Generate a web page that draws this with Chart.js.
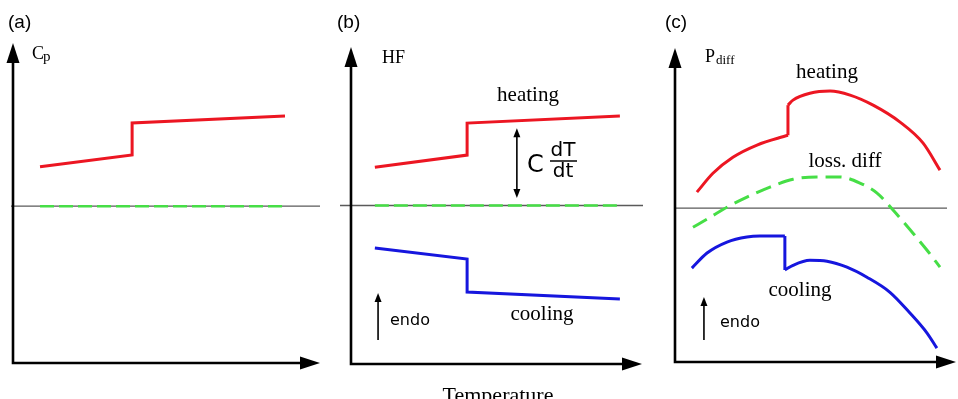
<!DOCTYPE html>
<html>
<head>
<meta charset="utf-8">
<script src="https://cdn.jsdelivr.net/npm/chart.js@4.4.1/dist/chart.umd.min.js"></script>
<style>
  html, body { margin: 0; padding: 0; background: #fff; }
  #wrap { position: relative; width: 958px; height: 399px; overflow: hidden; }
  #wrap canvas { position: absolute; top: 0; }
</style>
</head>
<body>
<div id="wrap">
  <canvas id="panelA" width="330" height="399" style="left:0px"></canvas>
  <canvas id="panelB" width="320" height="399" style="left:330px"></canvas>
  <canvas id="panelC" width="308" height="399" style="left:650px"></canvas>
</div>
<script>
// Panel (a): Cp vs temperature
const aHeatX = [0.88, 3.88, 3.88, 8.86];
const aHeatY = [1.23, 1.60, 2.60, 2.82];
const aLossX = [0.88, 8.86];
const aLossY = [0, 0];

// Panel (b): heat flow
const bHeatX = [0.82, 3.99, 3.99, 9.24];
const bHeatY = [1.21, 1.59, 2.60, 2.82];
const bCoolX = [0.82, 3.99, 3.99, 9.24];
const bCoolY = [-1.34, -1.69, -2.73, -2.95];
const bLossX = [0.82, 9.24];
const bLossY = [0, 0];

// Panel (c): Pdiff, curves split at the transition step
const cHeatLowX = [0.78, 1.35, 2.06, 2.92, 4.02];
const cHeatLowY = [0.51, 1.11, 1.62, 2.01, 2.32];
const cHeatHighX = [4.02, 4.20, 4.80, 5.52, 6.23, 7.05, 8.01, 8.83, 9.43];
const cHeatHighY = [3.28, 3.44, 3.66, 3.73, 3.60, 3.28, 2.74, 2.07, 1.21];
const cLossX = [0.64, 1.25, 1.85, 2.56, 3.38, 4.20, 5.05, 5.87, 6.58, 7.19, 7.76, 8.47, 8.97, 9.43];
const cLossY = [-0.61, -0.29, 0.03, 0.35, 0.67, 0.92, 0.99, 0.99, 0.80, 0.48, -0.06, -0.80, -1.34, -1.88];
const cCoolLowX = [0.60, 1.14, 1.85, 2.56, 3.02, 3.91];
const cCoolLowY = [-1.91, -1.43, -1.08, -0.92, -0.89, -0.89];
const cCoolHighX = [3.91, 4.20, 4.80, 5.41, 6.12, 6.83, 7.65, 8.36, 8.97, 9.32];
const cCoolHighY = [-1.97, -1.82, -1.66, -1.69, -1.88, -2.20, -2.68, -3.34, -3.98, -4.46];

const RED = 'rgb(236,22,34)';
const BLUE = 'rgb(22,22,222)';
const GREEN = 'rgb(70,222,70)';
const SERIF = '"Liberation Serif", "Times New Roman", serif';
const SANS = '"DejaVu Sans", Verdana, sans-serif';
const ARIAL = '"Liberation Sans", Arial, sans-serif';

function toPoints(xs, ys) {
  return xs.map((x, i) => ({ x, y: ys[i] }));
}

function lastAndFirst(xsA, ysA, xsB, ysB) {
  const n = xsA.length - 1;
  return [{ x: xsA[n], y: ysA[n] }, { x: xsB[0], y: ysB[0] }];
}

function solid(points, color, smooth) {
  return {
    data: points,
    borderColor: color,
    borderWidth: 3,
    pointRadius: 0,
    fill: false,
    tension: 0,
    cubicInterpolationMode: smooth ? 'monotone' : 'default'
  };
}

function dashed(points, dash, width, smooth) {
  return {
    data: points,
    borderColor: GREEN,
    borderWidth: width,
    borderDash: dash,
    pointRadius: 0,
    fill: false,
    tension: 0,
    cubicInterpolationMode: smooth ? 'monotone' : 'default'
  };
}

function arrowHead(ctx, x, y, dx, dy, len, half) {
  // filled triangle with tip at (x, y), pointing along (dx, dy)
  const px = -dy, py = dx;
  ctx.beginPath();
  ctx.moveTo(x, y);
  ctx.lineTo(x - dx * len + px * half, y - dy * len + py * half);
  ctx.lineTo(x - dx * len - px * half, y - dy * len - py * half);
  ctx.closePath();
  ctx.fill();
}

// Axes, zero line, annotation arrows and labels for one panel
function makeOverlay(cfg) {
  return {
    id: 'overlay',
    beforeDatasetsDraw(chart) {
      const { ctx, chartArea: area, scales } = chart;
      const y0 = scales.y.getPixelForValue(0);
      ctx.save();
      ctx.strokeStyle = '#5a5a5a';
      ctx.lineWidth = 1.3;
      ctx.beginPath();
      ctx.moveTo(area.left - cfg.zeroLeft, y0);
      ctx.lineTo(area.right + cfg.zeroRight, y0);
      ctx.stroke();
      ctx.restore();
    },
    afterDraw(chart) {
      const { ctx, chartArea: area, scales } = chart;
      const off = cfg.offset;
      ctx.save();
      ctx.strokeStyle = '#000';
      ctx.fillStyle = '#000';
      ctx.lineWidth = 2.6;
      ctx.lineCap = 'butt';
      ctx.beginPath();
      ctx.moveTo(area.left, area.top + 10);
      ctx.lineTo(area.left, area.bottom);
      ctx.lineTo(area.right - 10, area.bottom);
      ctx.stroke();
      arrowHead(ctx, area.left, area.top, 0, -1, 20, 6.5);
      arrowHead(ctx, area.right, area.bottom, 1, 0, 20, 6.5);

      // thin annotation arrows (data units)
      ctx.lineWidth = 1.6;
      (cfg.arrows || []).forEach(a => {
        const x = scales.x.getPixelForValue(a.x);
        const yt = scales.y.getPixelForValue(a.top);
        const yb = scales.y.getPixelForValue(a.bottom);
        ctx.beginPath();
        ctx.moveTo(x, yt + 6);
        ctx.lineTo(x, a.both ? yb - 6 : yb);
        ctx.stroke();
        arrowHead(ctx, x, yt, 0, -1, 9, 3.5);
        if (a.both) arrowHead(ctx, x, yb, 0, 1, 9, 3.5);
      });

      // text labels (page pixels)
      (cfg.labels || []).forEach(l => {
        ctx.font = l.font;
        ctx.textAlign = l.align || 'left';
        ctx.textBaseline = l.base || 'middle';
        ctx.fillText(l.text, l.x - off, l.y);
      });

      if (cfg.fraction) {
        const f = cfg.fraction;
        ctx.lineWidth = 1.5;
        ctx.beginPath();
        ctx.moveTo(f.x0 - off, f.y);
        ctx.lineTo(f.x1 - off, f.y);
        ctx.stroke();
      }
      ctx.restore();
    }
  };
}

function makePanel(id, datasets, yMin, yMax, padding, cfg) {
  const el = document.getElementById(id);
  return new Chart(el.getContext('2d'), {
    type: 'line',
    data: { datasets },
    options: {
      responsive: false,
      animation: false,
      layout: { padding },
      scales: {
        x: { type: 'linear', min: 0, max: 10, display: false },
        y: { type: 'linear', min: yMin, max: yMax, display: false }
      },
      plugins: { legend: { display: false }, tooltip: { enabled: false } }
    },
    plugins: [makeOverlay(cfg)]
  });
}

makePanel('panelA', [
  dashed(toPoints(aLossX, aLossY), [14, 5], 2.6, false),
  solid(toPoints(aHeatX, aHeatY), RED, false)
], -4.9, 5.1, { left: 13, right: 10, top: 43, bottom: 36 }, {
  offset: 0, zeroLeft: 2, zeroRight: 0,
  labels: [
    { text: '(a)', x: 8, y: 23, font: '19px ' + ARIAL },
    { text: 'C', x: 32, y: 59, font: '18px ' + SERIF, base: 'alphabetic' },
    { text: 'p', x: 43, y: 61, font: '15px ' + SERIF, base: 'alphabetic' }
  ]
});

makePanel('panelB', [
  dashed(toPoints(bLossX, bLossY), [14, 5], 2.6, false),
  solid(toPoints(bHeatX, bHeatY), RED, false),
  solid(toPoints(bCoolX, bCoolY), BLUE, false)
], -5, 5, { left: 21, right: 8, top: 47, bottom: 35 }, {
  offset: 330, zeroLeft: 11, zeroRight: 1,
  arrows: [
    { x: 5.70, top: 2.44, bottom: 0.24, both: true },
    { x: 0.93, top: -2.76, bottom: -4.24, both: false }
  ],
  labels: [
    { text: '(b)', x: 337, y: 23, font: '19px ' + ARIAL },
    { text: 'HF', x: 382, y: 63, font: '18px ' + SERIF, base: 'alphabetic' },
    { text: 'heating', x: 528, y: 95, font: '21px ' + SERIF, align: 'center' },
    { text: 'cooling', x: 542, y: 314, font: '21px ' + SERIF, align: 'center' },
    { text: 'endo', x: 390, y: 321, font: '16px ' + SANS },
    { text: 'C', x: 527, y: 166, font: '24px ' + SANS },
    { text: 'dT', x: 563, y: 151, font: '20px ' + SANS, align: 'center' },
    { text: 'dt', x: 563, y: 172, font: '20px ' + SANS, align: 'center' },
    { text: 'Temperature', x: 498, y: 402, font: '22px ' + SERIF, align: 'center', base: 'alphabetic' }
  ],
  fraction: { x0: 550, x1: 577, y: 161 }
});

makePanel('panelC', [
  dashed(toPoints(cLossX, cLossY), [16, 8], 3, true),
  solid(toPoints(cHeatLowX, cHeatLowY), RED, true),
  solid(lastAndFirst(cHeatLowX, cHeatLowY, cHeatHighX, cHeatHighY), RED, false),
  solid(toPoints(cHeatHighX, cHeatHighY), RED, true),
  solid(toPoints(cCoolLowX, cCoolLowY), BLUE, true),
  solid(lastAndFirst(cCoolLowX, cCoolLowY, cCoolHighX, cCoolHighY), BLUE, false),
  solid(toPoints(cCoolHighX, cCoolHighY), BLUE, true)
], -4.9, 5.1, { left: 25, right: 2, top: 48, bottom: 37 }, {
  offset: 650, zeroLeft: 0, zeroRight: -9,
  arrows: [
    { x: 1.03, top: -2.83, bottom: -4.2, both: false }
  ],
  labels: [
    { text: '(c)', x: 665, y: 23, font: '19px ' + ARIAL },
    { text: 'P', x: 705, y: 62, font: '18px ' + SERIF, base: 'alphabetic' },
    { text: 'diff', x: 716, y: 64, font: '13px ' + SERIF, base: 'alphabetic' },
    { text: 'heating', x: 827, y: 72, font: '21px ' + SERIF, align: 'center' },
    { text: 'loss. diff', x: 845, y: 161, font: '21px ' + SERIF, align: 'center' },
    { text: 'cooling', x: 800, y: 290, font: '21px ' + SERIF, align: 'center' },
    { text: 'endo', x: 720, y: 323, font: '16px ' + SANS }
  ]
});
</script>
</body>
</html>
